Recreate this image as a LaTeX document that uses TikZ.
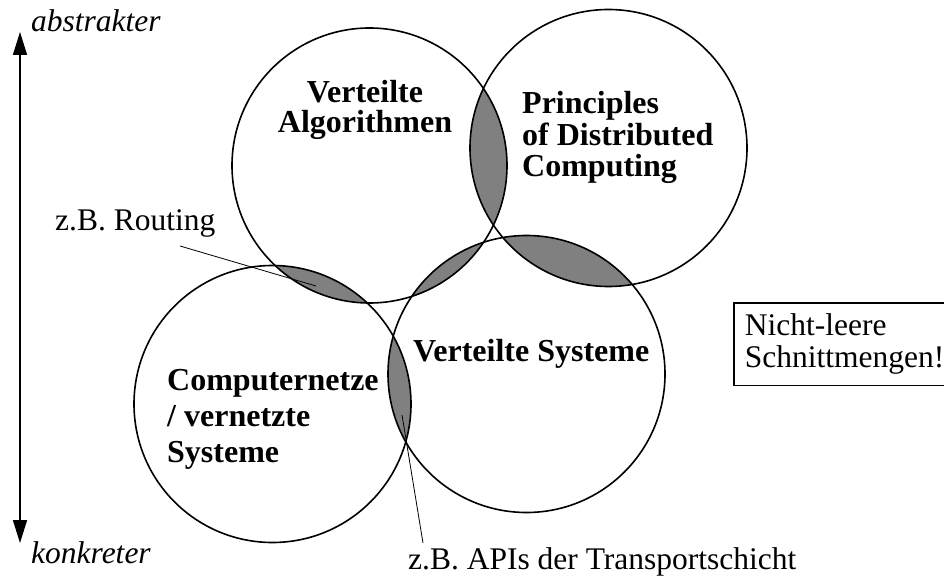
\documentclass[tikz,border=0pt]{standalone}
\usepackage{fontspec}
\setmainfont{Liberation Serif}
\usetikzlibrary{arrows.meta}
\definecolor{lensgray}{RGB}{128,128,128}
\begin{document}
\begin{tikzpicture}[x=1pt,y=-1pt,
  ring/.style={circle, draw, line width=1.6pt, minimum size=#1, inner sep=0pt},
  boldlabel/.style={font=\fontsize{32}{#1}\selectfont\bfseries, inner sep=0pt},
  boldlabel/.default=30,
  plainlabel/.style={font=\fontsize{31.5}{32}\selectfont, inner sep=0pt},
  italiclabel/.style={font=\fontsize{31.5}{32}\selectfont\itshape, inner sep=0pt},
  leader/.style={line width=0.8pt},
  axis/.style={line width=1.6pt, {Triangle[length=23pt,width=14pt]}-{Triangle[length=23pt,width=14pt]}},
  notebox/.style={draw, line width=1.6pt, font=\fontsize{31.5}{32}\selectfont, align=left, text width=210pt, inner xsep=11pt, inner ysep=11pt},
]
\useasboundingbox (0,0) rectangle (944,577);
\clip (0,0) rectangle (944,577);

% circle centres
\coordinate (C1) at (369.5,165.5);
\coordinate (C2) at (608.5,148);
\coordinate (C3) at (272.5,404);
\coordinate (C4) at (526.5,374);

% shaded intersections
\begin{scope}
  \clip (C1) circle[radius=137.5pt];
  \fill[lensgray] (C2) circle[radius=138.5pt];
  \fill[lensgray] (C3) circle[radius=138.5pt];
  \fill[lensgray] (C4) circle[radius=138.5pt];
\end{scope}
\begin{scope}
  \clip (C4) circle[radius=138.5pt];
  \fill[lensgray] (C2) circle[radius=138.5pt];
  \fill[lensgray] (C3) circle[radius=138.5pt];
\end{scope}

% circles
\node[ring=275pt] (c1) at (C1) {};
\node[ring=277pt] (c2) at (C2) {};
\node[ring=277pt] (c3) at (C3) {};
\node[ring=277pt] (c4) at (C4) {};

% labels in circles
\node[boldlabel, align=center, anchor=north] (va) at (365,80.5) {Verteilte\\Algorithmen};
\node[boldlabel=31.3, align=left, anchor=north west] (pdc) at (522,91.5) {Principles\\of Distributed\\Computing};
\node[boldlabel=36, align=left, anchor=north west] (cn) at (167,369.5) {Computernetze\\/ vernetzte\\Systeme};
\node[boldlabel, anchor=base west] (vs) at (413,361) {Verteilte Systeme};

% annotations
\node[plainlabel, anchor=base west] (rt) at (55,230) {z.B. Routing};
\node[plainlabel, anchor=base west] (api) at (408,569) {z.B. APIs der Transportschicht};
\coordinate (rtA) at (180,246);
\coordinate (rtB) at (316,286);
\coordinate (apiA) at (423,543);
\coordinate (apiB) at (402,415);
\draw[leader] (rtA) -- (rtB);
\draw[leader] (apiA) -- (apiB);

% axis
\node[italiclabel, anchor=base west] (abs) at (31,32) {abstrakter};
\node[italiclabel, anchor=base west] (kon) at (31,563) {konkreter};
\coordinate (axTop) at (20,32);
\coordinate (axBot) at (20,543);
\draw[axis] (axBot) -- (axTop);

% note
\node[notebox, anchor=north west] (nl) at (733,302) {Nicht-leere\\Schnittmengen!};
\end{tikzpicture}
\end{document}
